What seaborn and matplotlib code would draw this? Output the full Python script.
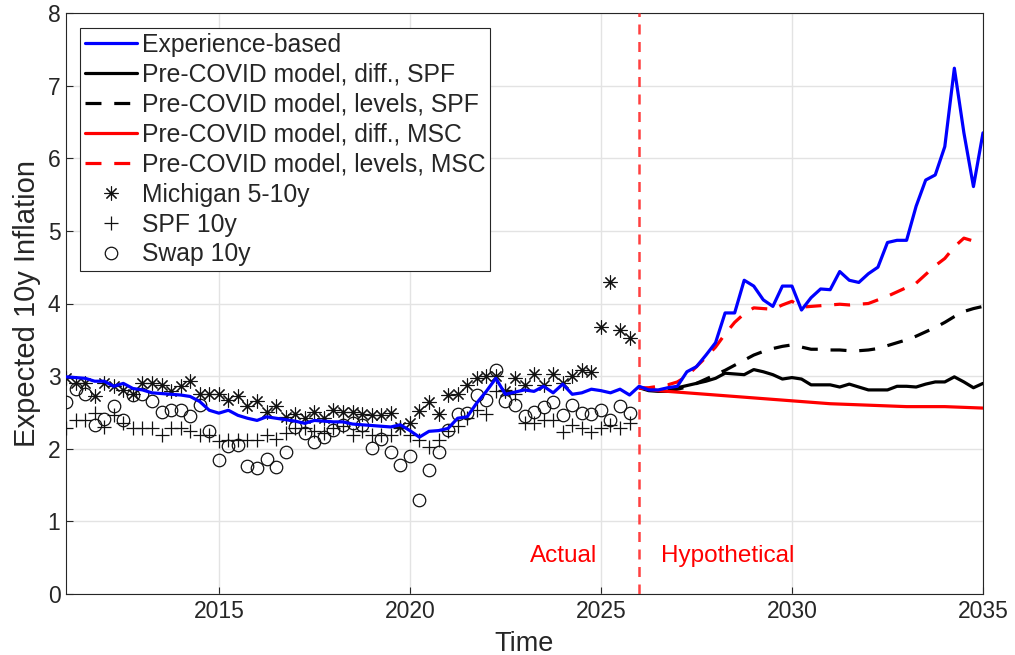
import numpy as np
import pandas as pd
import matplotlib
matplotlib.use("Agg")
import matplotlib.pyplot as plt
import seaborn as sns

# ---------------- data (quarterly) ----------------
# Experience-based expectation, 2011Q1 .. 2035Q1
experience = [2.99, 2.98, 2.97, 2.93, 2.93, 2.86, 2.90, 2.83, 2.81, 2.77, 2.76, 2.75,
              2.74, 2.72, 2.65, 2.53, 2.49, 2.53, 2.46, 2.42, 2.39, 2.44, 2.42, 2.40,
              2.38, 2.35, 2.39, 2.38, 2.37, 2.37, 2.34, 2.33, 2.32, 2.31, 2.30, 2.33,
              2.25, 2.16, 2.24, 2.25, 2.28, 2.42, 2.44, 2.63, 2.79, 2.97, 2.75, 2.78,
              2.81, 2.79, 2.86, 2.77, 2.89, 2.75, 2.77, 2.82, 2.80, 2.77, 2.82, 2.74,
              2.86,
              2.81, 2.81, 2.84, 2.86, 3.06, 3.13, 3.29, 3.46, 3.87, 3.87, 4.32, 4.24,
              4.05, 3.96, 4.24, 4.24, 3.91, 4.08, 4.20, 4.19, 4.44, 4.32, 4.29, 4.41,
              4.50, 4.84, 4.87, 4.87, 5.34, 5.70, 5.77, 6.16, 7.24, 6.35, 5.61, 6.35]
experience_start = 2011.0

# Pre-COVID models, from 2026Q1
diff_spf = [2.84, 2.80, 2.79, 2.79, 2.84, 2.87, 2.90, 2.93, 2.97, 3.04, 3.03, 3.02,
            3.09, 3.06, 3.02, 2.96, 2.98, 2.96, 2.88, 2.88, 2.88, 2.85, 2.89, 2.85,
            2.81, 2.81, 2.81, 2.86, 2.86, 2.85, 2.89, 2.92, 2.92, 2.99, 2.92, 2.84, 2.90]
levels_spf = [2.84, 2.82, 2.80, 2.80, 2.82, 2.85, 2.90, 2.96, 3.02, 3.08, 3.15, 3.22,
              3.29, 3.34, 3.38, 3.41, 3.43, 3.40, 3.37, 3.37, 3.36, 3.36, 3.35, 3.35,
              3.36, 3.38, 3.42, 3.46, 3.50, 3.55, 3.61, 3.67, 3.74, 3.82, 3.89, 3.93, 3.96]
levels_msc = [2.84, 2.84, 2.86, 2.88, 2.92, 3.00, 3.13, 3.26, 3.40, 3.58, 3.74, 3.86,
              3.94, 3.93, 3.92, 3.98, 4.03, 3.95, 3.96, 3.97, 3.98, 3.99, 3.98, 3.99,
              4.00, 4.05, 4.10, 4.16, 4.22, 4.28, 4.40, 4.52, 4.62, 4.78, 4.90, 4.86]
model_start = 2026.0
# diff MSC, semi-annual from 2026
diff_msc = [2.84, 2.80, 2.78, 2.76, 2.74, 2.72, 2.70, 2.68, 2.66, 2.64, 2.62, 2.61,
            2.60, 2.59, 2.58, 2.58, 2.58, 2.57, 2.56]

# Survey / market measures, 2011Q1 .. 2025Q4
michigan = [2.98, 2.90, 2.90, 2.72, 2.90, 2.86, 2.81, 2.76, 2.90, 2.90, 2.88, 2.79,
            2.86, 2.93, 2.76, 2.75, 2.75, 2.67, 2.72, 2.59, 2.66, 2.50, 2.59, 2.44,
            2.48, 2.42, 2.51, 2.42, 2.53, 2.50, 2.50, 2.48, 2.47, 2.47, 2.49, 2.30,
            2.36, 2.52, 2.65, 2.48, 2.74, 2.76, 2.88, 2.97, 3.00, 3.00, 2.79, 2.97,
            2.88, 3.03, 2.88, 3.03, 2.90, 3.00, 3.09, 3.06, 3.67, 4.30, 3.63, 3.52]
spf10 = [2.28, 2.39, 2.39, 2.49, 2.30, 2.47, 2.35, 2.28, 2.28, 2.28, 2.19, 2.28,
         2.28, 2.24, 2.19, 2.19, 2.10, 2.12, 2.12, 2.12, 2.12, 2.19, 2.14, 2.21,
         2.28, 2.28, 2.24, 2.21, 2.28, 2.31, 2.19, 2.24, 2.19, 2.19, 2.19, 2.28,
         2.19, 2.12, 2.03, 2.12, 2.24, 2.31, 2.42, 2.53, 2.48, 2.79, 2.81, 2.75,
         2.35, 2.35, 2.40, 2.40, 2.23, 2.33, 2.28, 2.23, 2.28, 2.33, 2.28, 2.35]
swap10 = [2.65, 2.82, 2.76, 2.33, 2.41, 2.59, 2.39, 2.74, 2.76, 2.66, 2.51, 2.53,
          2.53, 2.45, 2.60, 2.25, 1.84, 2.04, 2.05, 1.76, 1.73, 1.86, 1.75, 1.96,
          2.30, 2.21, 2.09, 2.16, 2.26, 2.33, 2.36, 2.33, 2.01, 2.13, 1.95, 1.78,
          1.90, 1.30, 1.71, 1.96, 2.26, 2.48, 2.49, 2.74, 2.67, 3.09, 2.66, 2.60,
          2.45, 2.51, 2.58, 2.64, 2.47, 2.60, 2.49, 2.48, 2.53, 2.39, 2.59, 2.49]
survey_start = 2011.0

split_year = 2026.0
x_ticks = [2015, 2020, 2025, 2030, 2035]
y_ticks = [0, 1, 2, 3, 4, 5, 6, 7, 8]

# ---------------- build frames ----------------
def qtimes(start, n, step=0.25):
    return start + step * np.arange(n)

df_exp = pd.DataFrame({"t": qtimes(experience_start, len(experience)), "v": experience})
df_dspf = pd.DataFrame({"t": qtimes(model_start, len(diff_spf)), "v": diff_spf})
df_lspf = pd.DataFrame({"t": qtimes(model_start, len(levels_spf)), "v": levels_spf})
df_dmsc = pd.DataFrame({"t": qtimes(model_start, len(diff_msc), 0.5), "v": diff_msc})
df_lmsc = pd.DataFrame({"t": qtimes(model_start, len(levels_msc)), "v": levels_msc})
df_mich = pd.DataFrame({"t": qtimes(survey_start, len(michigan)), "v": michigan})
df_spf = pd.DataFrame({"t": qtimes(survey_start, len(spf10)), "v": spf10})
df_swap = pd.DataFrame({"t": qtimes(survey_start, len(swap10)), "v": swap10})

# ---------------- plot ----------------
sns.set_style("white")
plt.rcParams["font.family"] = ["Liberation Sans", "DejaVu Sans"]

fig = plt.figure(figsize=(10.15, 6.55), dpi=100)
ax = fig.add_axes([66 / 1015, 1 - 594 / 655, (983 - 66) / 1015, (594 - 13) / 655])

lw = 2.3
sns.lineplot(data=df_exp, x="t", y="v", ax=ax, color="#0000ff", lw=lw,
             label="Experience-based", zorder=5)
sns.lineplot(data=df_dspf, x="t", y="v", ax=ax, color="black", lw=lw,
             label="Pre-COVID model, diff., SPF", zorder=4)
sns.lineplot(data=df_lspf, x="t", y="v", ax=ax, color="black", lw=lw,
             label="Pre-COVID model, levels, SPF", zorder=4)
sns.lineplot(data=df_dmsc, x="t", y="v", ax=ax, color="#ff0000", lw=lw,
             label="Pre-COVID model, diff., MSC", zorder=4)
sns.lineplot(data=df_lmsc, x="t", y="v", ax=ax, color="#ff0000", lw=lw,
             label="Pre-COVID model, levels, MSC", zorder=4)
lines = ax.get_lines()
lines[2].set_dashes([5, 4])
lines[4].set_dashes([5, 4])

sns.lineplot(data=df_mich, x="t", y="v", ax=ax, linestyle="", marker=(8, 2, 0),
             markersize=10, markeredgewidth=0.8, color="black",
             markeredgecolor="#111111", label="Michigan 5-10y", zorder=3)
sns.lineplot(data=df_spf, x="t", y="v", ax=ax, linestyle="", marker="+",
             markersize=10, markeredgewidth=0.9, color="black",
             markeredgecolor="#111111", label="SPF 10y", zorder=3)
sns.lineplot(data=df_swap, x="t", y="v", ax=ax, linestyle="", marker="o",
             markersize=9, markeredgewidth=0.9, markerfacecolor="none",
             color="black", markeredgecolor="#111111", label="Swap 10y", zorder=3)

ax.axvline(split_year, color="#ff4040", lw=1.8, dashes=[4, 3], zorder=6)

ax.text(split_year - 1.1, 0.52, "Actual", color="#ff0000", fontsize=17.5,
        ha="right", va="center")
ax.text(split_year + 0.58, 0.52, "Hypothetical", color="#ff0000", fontsize=17.5,
        ha="left", va="center")

ax.set_xlim(2011, 2035)
ax.set_ylim(0, 8)
ax.set_xticks(x_ticks)
ax.set_yticks(y_ticks)
ax.grid(True, color="#e3e3e3", lw=1.0)
ax.set_axisbelow(True)
for s in ax.spines.values():
    s.set_color("#262626")
    s.set_linewidth(0.8)
ax.tick_params(direction="in", length=5, width=0.8, colors="#262626",
               labelsize=16.5, top=False, right=False, bottom=True, left=True,
               pad=4)
ax.set_xlabel("Time", fontsize=19.5, color="#262626", labelpad=6)
ax.set_ylabel("Expected 10y Inflation", fontsize=21, color="#262626", labelpad=5)

leg = ax.legend(loc="upper left", bbox_to_anchor=(14 / 917, 1 - 15 / 581),
                fontsize=17.8, frameon=True, fancybox=False, framealpha=1,
                edgecolor="#262626", handlelength=2.1, handletextpad=0.2,
                labelspacing=0.24, borderpad=0.2, borderaxespad=0)
leg.get_frame().set_linewidth(0.8)
for t in leg.get_texts():
    t.set_color("#262626")

fig.savefig("out.png", dpi=100)
